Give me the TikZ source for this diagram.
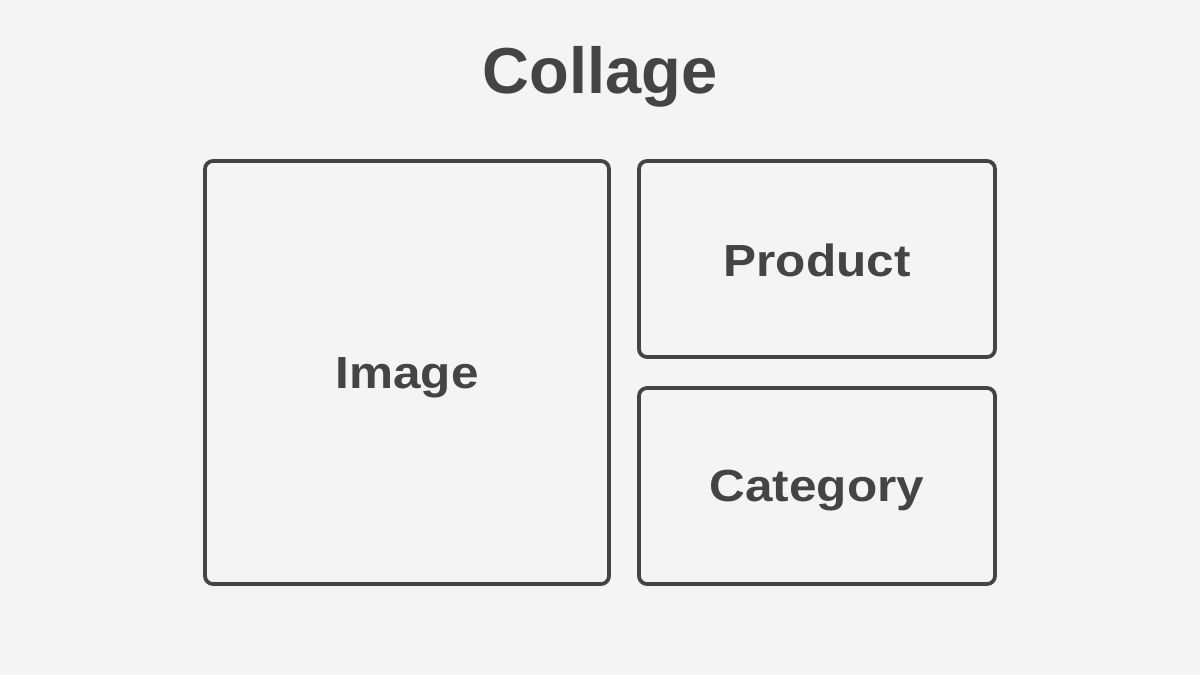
\documentclass[tikz,border=0pt]{standalone}
\usepackage{fontspec}
\setmainfont{Liberation Sans}
\definecolor{ink}{HTML}{444444}
\definecolor{bg}{HTML}{F4F4F4}
\begin{document}
\begin{tikzpicture}[x=1pt,y=-1pt,
  box/.style={draw=ink, line width=3.8pt, rounded corners=8pt, inner sep=0pt},
  lbl/.style={text=ink, font=\fontsize{45}{50}\selectfont\bfseries, anchor=base, inner sep=0pt},
  ttl/.style={text=ink, font=\fontsize{65}{70}\selectfont\bfseries, anchor=base, inner sep=0pt}]
\fill[bg] (0,0) rectangle (1200,675);
\useasboundingbox (0,0) rectangle (1200,675);
\node[ttl] (title) at (600,93) {Collage};
\node[box, minimum width=404pt, minimum height=423pt] (image) at (407,372.5) {};
\node[box, minimum width=356pt, minimum height=196pt] (product) at (817,259) {};
\node[box, minimum width=356pt, minimum height=196pt] (category) at (817,486) {};
\node[lbl] (imagelbl) at (407,388) {\scalebox{1.1}[1]{Image}};
\node[lbl] (productlbl) at (817,276) {\scalebox{1.1}[1]{Product}};
\node[lbl] (categorylbl) at (817,501) {\scalebox{1.1}[1]{Category}};
\end{tikzpicture}
\end{document}
